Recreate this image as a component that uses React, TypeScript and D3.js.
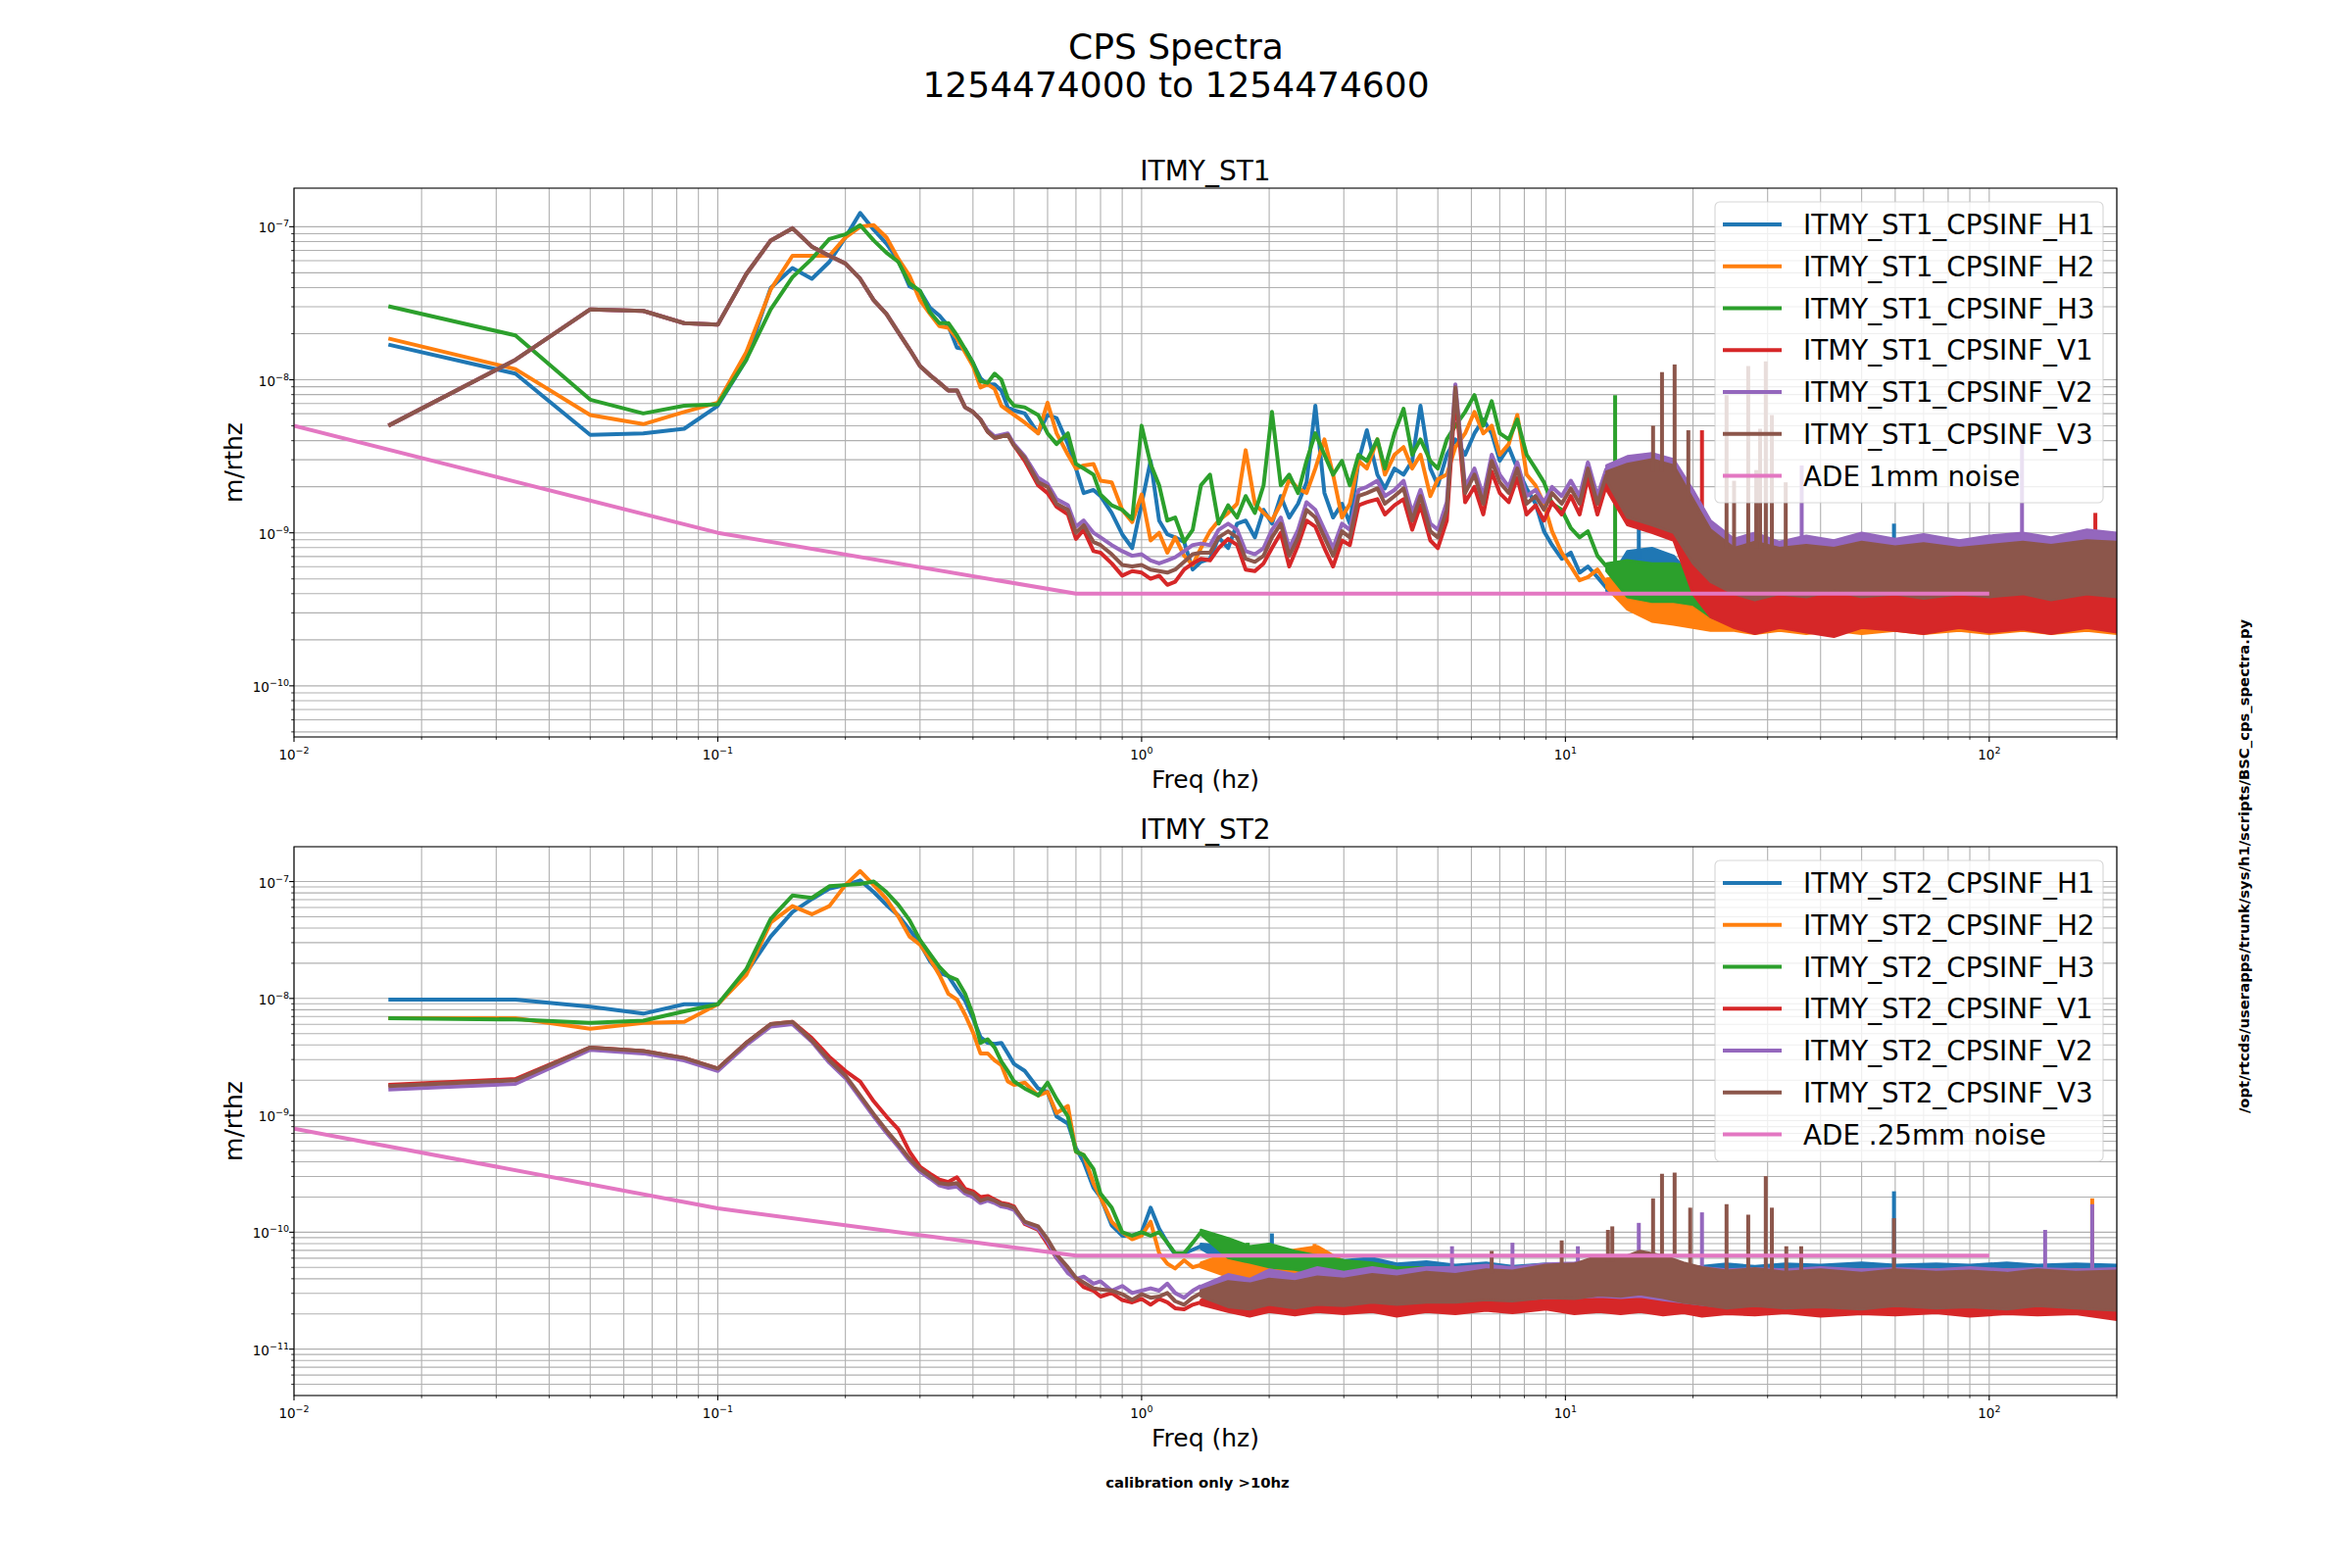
import React from 'react';
import * as d3 from 'd3';

const FONT = '"DejaVu Sans", "Liberation Sans", sans-serif';
const COLORS = ['#1f77b4', '#ff7f0e', '#2ca02c', '#d62728', '#9467bd', '#8c564b'];
const ADE_COLOR = '#e377c2';

// figure layout (matplotlib subplots 2x1, 24x16in @100dpi)
const AX_L = 300;
const AX_R = 2160;
const AX_H = 560;
const LW = 4;

// ---- frequency bins (Hz) ----
const lowFreq = [
  0.0167, 0.0333, 0.05, 0.0667, 0.0833, 0.1, 0.1167, 0.1333, 0.15, 0.1667,
  0.1833, 0.2, 0.2167, 0.2333, 0.25, 0.2667, 0.2833, 0.3, 0.3167, 0.3333,
  0.35, 0.3667, 0.3833, 0.4, 0.4167, 0.4333, 0.45, 0.4667, 0.4833, 0.5,
  0.53, 0.57, 0.6, 0.63, 0.67, 0.7, 0.73, 0.77, 0.8, 0.85, 0.9, 0.95, 1.0,
  1.05, 1.1, 1.15, 1.2, 1.26, 1.32, 1.38,
];
const st1MidFreq = [
  1.45, 1.52, 1.6, 1.68, 1.76, 1.85, 1.94, 2.03, 2.13, 2.23,
  2.34, 2.45, 2.57, 2.7, 2.83, 2.97, 3.1, 3.25, 3.4, 3.6,
  3.75, 3.95, 4.15, 4.35, 4.55, 4.8, 5.0, 5.25, 5.5, 5.8,
  6.1, 6.4, 6.7, 7.0, 7.35, 7.7, 8.1, 8.5, 8.9, 9.3,
  9.8, 10.3, 10.8, 11.3, 11.9, 12.5,
];
const st1LineFreq = [...lowFreq, ...st1MidFreq];
const st2LineFreq = lowFreq;

// ---- ST1 spectra, log10(m/rthz) ----
const st1H1 = [
  -7.77, -7.96, -8.36, -8.35, -8.32, -8.17, -7.87, -7.40, -7.27, -7.34, -7.23, -7.07, -6.91, -7.02, -7.11,
  -7.22, -7.39, -7.42, -7.53, -7.58, -7.65, -7.79, -7.80, -7.89, -7.99, -8.03, -8.03, -8.07, -8.18, -8.20,
  -8.22, -8.35, -8.23, -8.25, -8.42, -8.58, -8.74, -8.72, -8.76, -8.87, -9.01, -9.10, -8.81,
  -8.53, -8.92, -9.01, -9.03, -9.06, -9.24, -9.19,
  -9.17, -9.03, -9.10, -8.94, -8.92, -9.03, -8.85, -8.94, -8.76, -8.90,
  -8.81, -8.67, -8.17, -8.74, -8.90, -8.81, -8.94, -8.53, -8.33, -8.62,
  -8.71, -8.58, -8.62, -8.53, -8.17, -8.58, -8.69, -8.49, -8.39, -8.49,
  -8.35, -8.26, -8.35, -8.53, -8.44, -8.58, -8.71, -8.81, -8.99, -9.08,
  -9.17, -9.13, -9.26, -9.22, -9.29, -9.36,
];
const st1H2 = [
  -7.73, -7.93, -8.23, -8.29, -8.21, -8.15, -7.82, -7.41, -7.19, -7.19, -7.19, -7.07, -7.00, -6.99, -7.07,
  -7.21, -7.32, -7.48, -7.57, -7.65, -7.66, -7.73, -7.82, -7.91, -8.05, -8.03, -8.06, -8.17, -8.20, -8.23,
  -8.28, -8.35, -8.15, -8.35, -8.49, -8.58, -8.56, -8.55, -8.66, -8.67, -8.85, -8.93, -8.75,
  -9.05, -9.00, -9.13, -9.03, -9.15, -9.21, -9.10,
  -8.99, -8.92, -8.87, -8.81, -8.46, -8.81, -8.87, -8.92, -8.81, -8.65,
  -8.71, -8.74, -8.58, -8.39, -8.62, -8.90, -8.81, -8.53, -8.58, -8.39,
  -8.62, -8.49, -8.44, -8.58, -8.49, -8.76, -8.65, -8.62, -8.44, -8.35,
  -8.21, -8.35, -8.30, -8.49, -8.42, -8.23, -8.62, -8.69, -8.81, -8.99,
  -9.13, -9.22, -9.31, -9.29, -9.24, -9.33,
];
const st1H3 = [
  -7.52, -7.71, -8.13, -8.22, -8.17, -8.16, -7.87, -7.54, -7.33, -7.21, -7.08, -7.05, -6.99, -7.09, -7.17,
  -7.23, -7.37, -7.42, -7.56, -7.63, -7.63, -7.71, -7.80, -7.89, -8.01, -8.02, -7.96, -8.00, -8.12, -8.17,
  -8.18, -8.23, -8.35, -8.42, -8.35, -8.55, -8.58, -8.62, -8.75, -8.82, -8.85, -8.91, -8.30,
  -8.55, -8.69, -8.92, -8.90, -9.06, -8.98, -8.69,
  -8.62, -8.94, -8.82, -8.90, -8.76, -8.87, -8.69, -8.21, -8.69, -8.62,
  -8.74, -8.53, -8.35, -8.49, -8.62, -8.53, -8.69, -8.49, -8.53, -8.39,
  -8.58, -8.35, -8.19, -8.49, -8.39, -8.53, -8.58, -8.39, -8.30, -8.21,
  -8.10, -8.30, -8.14, -8.35, -8.39, -8.26, -8.49, -8.58, -8.67, -8.81,
  -8.85, -8.97, -9.03, -8.99, -9.15, -9.22,
];
const st1V1 = [
  -8.30, -7.87, -7.54, -7.55, -7.63, -7.64, -7.31, -7.09, -7.01, -7.13, -7.19, -7.24, -7.34, -7.48, -7.57,
  -7.69, -7.80, -7.91, -7.97, -8.02, -8.07, -8.07, -8.18, -8.21, -8.26, -8.34, -8.38, -8.37, -8.36, -8.43,
  -8.53, -8.69, -8.74, -8.83, -8.88, -9.04, -8.98, -9.12, -9.13, -9.20, -9.28, -9.25, -9.26,
  -9.30, -9.28, -9.34, -9.32, -9.24, -9.20, -9.17,
  -9.18, -9.10, -9.04, -9.08, -9.24, -9.25, -9.20, -9.10, -9.00, -9.22,
  -9.08, -8.92, -8.96, -9.10, -9.22, -9.05, -9.08, -8.82, -8.80, -8.78,
  -8.88, -8.82, -8.78, -8.98, -8.82, -9.05, -9.10, -8.92, -8.10, -8.80,
  -8.70, -8.88, -8.60, -8.74, -8.80, -8.64, -8.88, -8.82, -8.92, -8.80,
  -8.88, -8.76, -8.88, -8.64, -8.88, -8.68,
];
const st1V2 = [
  -8.30, -7.87, -7.54, -7.55, -7.63, -7.64, -7.31, -7.09, -7.01, -7.13, -7.19, -7.24, -7.34, -7.48, -7.57,
  -7.69, -7.80, -7.91, -7.97, -8.02, -8.07, -8.07, -8.18, -8.21, -8.26, -8.33, -8.37, -8.36, -8.35, -8.42,
  -8.50, -8.64, -8.68, -8.78, -8.82, -8.96, -8.92, -9.00, -9.03, -9.08, -9.12, -9.15, -9.14,
  -9.18, -9.20, -9.18, -9.16, -9.12, -9.08, -9.07,
  -9.08, -8.98, -8.94, -8.98, -9.12, -9.14, -9.10, -8.98, -8.90, -9.10,
  -8.98, -8.80, -8.85, -8.98, -9.10, -8.94, -8.98, -8.72, -8.70, -8.66,
  -8.76, -8.72, -8.66, -8.87, -8.72, -8.94, -8.98, -8.80, -8.03, -8.70,
  -8.58, -8.76, -8.49, -8.62, -8.70, -8.54, -8.76, -8.72, -8.80, -8.70,
  -8.76, -8.66, -8.76, -8.54, -8.76, -8.58,
];
const st1V3 = [
  -8.30, -7.87, -7.54, -7.55, -7.63, -7.64, -7.31, -7.09, -7.01, -7.13, -7.19, -7.24, -7.34, -7.48, -7.57,
  -7.69, -7.80, -7.91, -7.97, -8.02, -8.07, -8.07, -8.18, -8.21, -8.26, -8.34, -8.38, -8.37, -8.36, -8.43,
  -8.51, -8.67, -8.70, -8.81, -8.85, -9.00, -8.95, -9.06, -9.08, -9.14, -9.21, -9.22, -9.21,
  -9.24, -9.25, -9.26, -9.24, -9.19, -9.14, -9.13,
  -9.13, -9.03, -8.99, -9.03, -9.17, -9.19, -9.15, -9.03, -8.94, -9.15,
  -9.03, -8.85, -8.90, -9.03, -9.15, -8.99, -9.03, -8.76, -8.74, -8.71,
  -8.81, -8.76, -8.71, -8.92, -8.76, -8.99, -9.03, -8.85, -8.05, -8.74,
  -8.62, -8.81, -8.53, -8.67, -8.74, -8.58, -8.81, -8.76, -8.85, -8.74,
  -8.81, -8.71, -8.81, -8.58, -8.81, -8.62,
];

// dense region of ST1 above 12.5 Hz: envelope of each spectrum, log10
const st1BandFreq = [12.5, 14, 16, 18, 20, 22, 25, 28, 32, 37, 43, 50, 60, 70, 85, 100, 120, 140, 170, 200];
const st1H1Lo = [-9.38, -9.45, -9.48, -9.52, -9.55, -9.58, -9.6, -9.6, -9.6, -9.6, -9.6, -9.6, -9.6, -9.6, -9.6, -9.6, -9.6, -9.6, -9.6, -9.6];
const st1H1Hi = [-9.34, -9.12, -9.1, -9.15, -9.3, -9.35, -9.38, -9.38, -9.38, -9.38, -9.38, -9.38, -9.38, -9.38, -9.38, -9.38, -9.38, -9.38, -9.38, -9.38];
const st1H2Lo = [-9.36, -9.5, -9.58, -9.6, -9.62, -9.64, -9.64, -9.66, -9.64, -9.66, -9.64, -9.66, -9.64, -9.66, -9.64, -9.66, -9.64, -9.66, -9.64, -9.66];
const st1H2Hi = [-9.3, -9.28, -9.35, -9.38, -9.38, -9.4, -9.4, -9.4, -9.4, -9.4, -9.4, -9.4, -9.4, -9.4, -9.4, -9.4, -9.4, -9.4, -9.4, -9.4];
const st1H3Lo = [-9.25, -9.42, -9.45, -9.45, -9.47, -9.55, -9.6, -9.6, -9.6, -9.6, -9.6, -9.6, -9.6, -9.6, -9.6, -9.6, -9.6, -9.6, -9.6, -9.6];
const st1H3Hi = [-9.2, -9.18, -9.2, -9.2, -9.22, -9.3, -9.36, -9.36, -9.36, -9.36, -9.36, -9.36, -9.36, -9.36, -9.36, -9.36, -9.36, -9.36, -9.36, -9.36];
const st1V1Lo = [-8.72, -8.95, -9.0, -9.05, -9.4, -9.55, -9.62, -9.66, -9.62, -9.65, -9.68, -9.62, -9.64, -9.66, -9.62, -9.65, -9.63, -9.66, -9.62, -9.65];
const st1V1Hi = [-8.66, -8.62, -8.58, -8.62, -8.9, -9.2, -9.36, -9.38, -9.38, -9.38, -9.38, -9.38, -9.38, -9.38, -9.38, -9.38, -9.38, -9.38, -9.38, -9.38];
const st1V2Lo = [-8.62, -8.88, -8.92, -8.98, -9.15, -9.28, -9.35, -9.35, -9.35, -9.35, -9.35, -9.35, -9.35, -9.35, -9.35, -9.35, -9.35, -9.35, -9.35, -9.35];
const st1V2Hi = [-8.56, -8.5, -8.48, -8.52, -8.72, -8.92, -9.04, -9.0, -9.06, -9.02, -9.05, -9.0, -9.04, -9.01, -9.05, -9.02, -9.0, -9.03, -8.98, -9.0];
const st1V3Lo = [-8.66, -8.9, -8.95, -9.0, -9.2, -9.32, -9.4, -9.44, -9.4, -9.42, -9.38, -9.42, -9.4, -9.43, -9.4, -9.42, -9.4, -9.44, -9.4, -9.42];
const st1V3Hi = [-8.6, -8.55, -8.52, -8.56, -8.78, -8.98, -9.1, -9.06, -9.1, -9.08, -9.1, -9.06, -9.09, -9.07, -9.1, -9.08, -9.06, -9.08, -9.05, -9.06];

// narrow lines: [freq, series, base log10, peak log10]
const st1Spikes = [
  [14.9, 0, -9.2, -8.74], [59.6, 0, -9.4, -8.94], [13.1, 2, -9.2, -8.10],
  [16.1, 5, -8.6, -8.30], [16.9, 5, -8.6, -7.95], [18.1, 5, -8.6, -7.90], [19.5, 5, -8.8, -8.33],
  [21.0, 3, -9.0, -8.33], [24.0, 5, -9.1, -8.10], [25.0, 5, -9.1, -8.66], [27.0, 5, -9.1, -7.91],
  [28.2, 5, -9.1, -8.59], [28.8, 5, -9.1, -8.32], [29.7, 5, -9.1, -7.88], [30.7, 5, -9.1, -8.23],
  [33.1, 5, -9.1, -8.67], [36.1, 4, -9.1, -8.56], [119.5, 4, -9.1, -8.38], [178, 3, -9.4, -8.87],
];

// ---- ST2 spectra, log10(m/rthz) ----
const st2H1 = [
  -8.01, -8.01, -8.07, -8.13, -8.05, -8.05, -7.78, -7.47, -7.26, -7.15, -7.06, -7.03, -6.99, -7.09, -7.20,
  -7.29, -7.41, -7.53, -7.68, -7.78, -7.81, -7.92, -8.02, -8.17, -8.33, -8.38, -8.39, -8.38, -8.47, -8.56,
  -8.62, -8.77, -8.80, -9.01, -9.07, -9.28, -9.40, -9.62, -9.70, -9.94, -10.03, -10.03, -10.00,
  -9.79, -9.97, -10.09, -10.19, -10.18, -10.15, -10.12,
];
const st2H2 = [
  -8.17, -8.17, -8.26, -8.21, -8.20, -8.05, -7.80, -7.35, -7.21, -7.28, -7.21, -7.03, -6.91, -7.03, -7.15,
  -7.30, -7.47, -7.54, -7.66, -7.80, -7.96, -8.01, -8.14, -8.29, -8.47, -8.47, -8.53, -8.57, -8.71, -8.74,
  -8.72, -8.83, -8.80, -8.98, -8.92, -9.31, -9.34, -9.58, -9.70, -9.91, -10.00, -10.06, -10.03,
  -9.91, -10.18, -10.27, -10.31, -10.24, -10.30, -10.28,
];
const st2H3 = [
  -8.17, -8.18, -8.21, -8.19, -8.11, -8.05, -7.75, -7.32, -7.12, -7.14, -7.04, -7.03, -7.02, -7.00, -7.09,
  -7.20, -7.33, -7.50, -7.62, -7.73, -7.81, -7.84, -7.96, -8.14, -8.38, -8.35, -8.42, -8.54, -8.62, -8.71,
  -8.77, -8.83, -8.72, -8.86, -9.01, -9.31, -9.34, -9.46, -9.67, -9.79, -10.00, -10.03, -10.00,
  -10.03, -10.00, -10.09, -10.18, -10.18, -10.09, -10.00,
];
const st2V1 = [
  -8.74, -8.69, -8.42, -8.45, -8.51, -8.60, -8.38, -8.22, -8.20, -8.34, -8.50, -8.62, -8.71, -8.88, -9.01,
  -9.12, -9.31, -9.44, -9.50, -9.55, -9.57, -9.53, -9.63, -9.65, -9.70, -9.69, -9.72, -9.75, -9.76, -9.78,
  -9.93, -9.98, -10.10, -10.22, -10.33, -10.40, -10.47, -10.50, -10.55, -10.52, -10.58, -10.60, -10.57,
  -10.62, -10.57, -10.60, -10.65, -10.66, -10.62, -10.60,
];
const st2V2 = [
  -8.78, -8.73, -8.44, -8.47, -8.53, -8.62, -8.40, -8.24, -8.22, -8.37, -8.55, -8.68, -8.85, -9.01, -9.15,
  -9.27, -9.39, -9.48, -9.54, -9.60, -9.62, -9.61, -9.67, -9.70, -9.75, -9.73, -9.75, -9.78, -9.79, -9.81,
  -9.92, -9.97, -10.08, -10.22, -10.35, -10.40, -10.38, -10.44, -10.42, -10.50, -10.46, -10.52, -10.50,
  -10.48, -10.50, -10.44, -10.52, -10.56, -10.50, -10.46,
];
const st2V3 = [
  -8.75, -8.70, -8.42, -8.45, -8.51, -8.60, -8.38, -8.22, -8.20, -8.36, -8.53, -8.66, -8.83, -8.99, -9.13,
  -9.25, -9.37, -9.46, -9.52, -9.58, -9.59, -9.58, -9.65, -9.67, -9.73, -9.71, -9.73, -9.76, -9.77, -9.79,
  -9.91, -9.95, -10.06, -10.19, -10.30, -10.39, -10.43, -10.48, -10.49, -10.50, -10.53, -10.58, -10.53,
  -10.56, -10.55, -10.52, -10.59, -10.62, -10.56, -10.52,
];

const st2BandFreq = [
  1.38, 1.6, 1.8, 2.0, 2.3, 2.6, 3.0, 3.5, 4.0, 4.7, 5.5, 6.5, 7.5, 9.0, 10.5, 12, 13.5,
  15, 17, 19, 21, 24, 28, 33, 40, 50, 60, 75, 90, 110, 130, 160, 200,
];
const st2H1Lo = [-10.14, -10.28, -10.3, -10.34, -10.32, -10.38, -10.4, -10.44, -10.45, -10.46, -10.44, -10.48, -10.46, -10.5, -10.48, -10.5, -10.52, -10.5, -10.52, -10.54, -10.55, -10.54, -10.56, -10.55, -10.56, -10.54, -10.56, -10.55, -10.56, -10.54, -10.56, -10.55, -10.56];
const st2H1Hi = [-10.10, -10.12, -10.16, -10.1, -10.2, -10.18, -10.24, -10.22, -10.27, -10.25, -10.28, -10.26, -10.29, -10.27, -10.3, -10.28, -10.3, -10.29, -10.31, -10.3, -10.29, -10.27, -10.29, -10.27, -10.28, -10.26, -10.28, -10.27, -10.28, -10.26, -10.28, -10.27, -10.28];
const st2H2Lo = [-10.3, -10.38, -10.4, -10.44, -10.42, -10.46, -10.48, -10.52, -10.54, -10.55, -10.56, -10.58, -10.6, -10.62, -10.6, -10.62, -10.64, -10.62, -10.64, -10.62, -10.6, -10.62, -10.6, -10.62, -10.6, -10.62, -10.6, -10.62, -10.6, -10.62, -10.6, -10.62, -10.6];
const st2H2Hi = [-10.26, -10.18, -10.22, -10.2, -10.15, -10.12, -10.25, -10.28, -10.3, -10.32, -10.33, -10.36, -10.4, -10.44, -10.45, -10.46, -10.45, -10.46, -10.45, -10.42, -10.38, -10.34, -10.33, -10.32, -10.33, -10.32, -10.33, -10.32, -10.33, -10.32, -10.33, -10.32, -10.32];
const st2H3Lo = [-10.02, -10.22, -10.26, -10.3, -10.32, -10.36, -10.4, -10.44, -10.46, -10.47, -10.48, -10.5, -10.52, -10.56, -10.58, -10.6, -10.6, -10.6, -10.6, -10.6, -10.6, -10.6, -10.6, -10.6, -10.6, -10.6, -10.6, -10.6, -10.6, -10.6, -10.6, -10.6, -10.6];
const st2H3Hi = [-9.98, -10.05, -10.12, -10.1, -10.16, -10.2, -10.24, -10.26, -10.3, -10.3, -10.31, -10.33, -10.36, -10.4, -10.43, -10.44, -10.45, -10.44, -10.45, -10.44, -10.42, -10.36, -10.35, -10.34, -10.35, -10.34, -10.35, -10.34, -10.35, -10.34, -10.35, -10.34, -10.34];
const st2V1Lo = [-10.62, -10.68, -10.72, -10.68, -10.71, -10.68, -10.7, -10.68, -10.72, -10.68, -10.7, -10.67, -10.69, -10.66, -10.7, -10.68, -10.7, -10.68, -10.71, -10.69, -10.72, -10.7, -10.71, -10.69, -10.72, -10.7, -10.71, -10.69, -10.72, -10.7, -10.71, -10.7, -10.75];
const st2V1Hi = [-10.58, -10.52, -10.55, -10.5, -10.52, -10.5, -10.52, -10.48, -10.5, -10.48, -10.5, -10.46, -10.48, -10.45, -10.46, -10.44, -10.45, -10.44, -10.46, -10.48, -10.5, -10.5, -10.5, -10.5, -10.5, -10.5, -10.5, -10.5, -10.5, -10.5, -10.5, -10.5, -10.5];
const st2V2Lo = [-10.5, -10.6, -10.62, -10.6, -10.62, -10.6, -10.6, -10.58, -10.6, -10.58, -10.58, -10.56, -10.58, -10.56, -10.56, -10.55, -10.56, -10.55, -10.58, -10.6, -10.62, -10.64, -10.62, -10.64, -10.63, -10.65, -10.62, -10.64, -10.63, -10.65, -10.62, -10.64, -10.63];
const st2V2Hi = [-10.46, -10.36, -10.4, -10.32, -10.36, -10.3, -10.34, -10.3, -10.33, -10.3, -10.3, -10.28, -10.3, -10.27, -10.26, -10.24, -10.24, -10.22, -10.24, -10.28, -10.3, -10.32, -10.31, -10.32, -10.3, -10.32, -10.31, -10.32, -10.3, -10.32, -10.31, -10.32, -10.31];
const st2V3Lo = [-10.55, -10.64, -10.66, -10.62, -10.65, -10.62, -10.63, -10.6, -10.62, -10.6, -10.6, -10.58, -10.59, -10.56, -10.57, -10.54, -10.55, -10.53, -10.56, -10.6, -10.62, -10.65, -10.63, -10.65, -10.64, -10.66, -10.63, -10.65, -10.64, -10.66, -10.63, -10.65, -10.67];
const st2V3Hi = [-10.5, -10.42, -10.44, -10.4, -10.42, -10.38, -10.4, -10.36, -10.38, -10.34, -10.36, -10.32, -10.33, -10.28, -10.27, -10.2, -10.22, -10.16, -10.2, -10.26, -10.3, -10.33, -10.31, -10.34, -10.32, -10.35, -10.32, -10.34, -10.33, -10.35, -10.32, -10.34, -10.33];

const st2Spikes = [
  [2.03, 0, -10.2, -10.01], [2.56, 1, -10.2, -10.10], [1.78, 2, -10.15, -10.09],
  [5.4, 4, -10.35, -10.12], [6.7, 5, -10.35, -10.16], [7.5, 4, -10.35, -10.09], [9.8, 5, -10.3, -10.07],
  [10.7, 4, -10.3, -10.12], [12.6, 5, -10.25, -9.98], [12.9, 5, -10.25, -9.95], [14.9, 4, -10.2, -9.92],
  [16.1, 5, -10.2, -9.71], [16.9, 5, -10.2, -9.50], [18.1, 5, -10.2, -9.49], [19.7, 5, -10.3, -9.79],
  [21, 4, -10.3, -9.83], [24, 5, -10.34, -9.76], [27, 5, -10.34, -9.85], [29.7, 5, -10.34, -9.52],
  [30.7, 5, -10.34, -9.79], [33.2, 5, -10.34, -10.12], [36, 5, -10.34, -10.12],
  [59.6, 0, -10.3, -9.65], [59.6, 5, -10.34, -9.88], [135.5, 4, -10.32, -9.98],
  [175, 1, -10.32, -9.71], [175, 4, -10.32, -9.76],
];

// ADE noise reference curves (m/rthz)
const adeFreq = [0.01, 0.1, 0.7, 100];
const st1Ade = [5e-9, 1e-9, 4e-10, 4e-10];
const st2Ade = [7.7e-10, 1.6e-10, 6.3e-11, 6.3e-11];

const st1Labels = ['ITMY_ST1_CPSINF_H1', 'ITMY_ST1_CPSINF_H2', 'ITMY_ST1_CPSINF_H3', 'ITMY_ST1_CPSINF_V1', 'ITMY_ST1_CPSINF_V2', 'ITMY_ST1_CPSINF_V3', 'ADE 1mm noise'];
const st2Labels = ['ITMY_ST2_CPSINF_H1', 'ITMY_ST2_CPSINF_H2', 'ITMY_ST2_CPSINF_H3', 'ITMY_ST2_CPSINF_V1', 'ITMY_ST2_CPSINF_V2', 'ITMY_ST2_CPSINF_V3', 'ADE .25mm noise'];

const panels = [
  {
    id: 'st1', title: 'ITMY_ST1', top: 192, yLog: [-10.334, -6.748],
    lineFreq: st1LineFreq, lines: [st1H1, st1H2, st1H3, st1V1, st1V2, st1V3],
    bandFreq: st1BandFreq,
    bandLo: [st1H1Lo, st1H2Lo, st1H3Lo, st1V1Lo, st1V2Lo, st1V3Lo],
    bandHi: [st1H1Hi, st1H2Hi, st1H3Hi, st1V1Hi, st1V2Hi, st1V3Hi],
    spikes: st1Spikes, ade: st1Ade, labels: st1Labels,
  },
  {
    id: 'st2', title: 'ITMY_ST2', top: 864, yLog: [-11.397, -6.702],
    lineFreq: st2LineFreq, lines: [st2H1, st2H2, st2H3, st2V1, st2V2, st2V3],
    bandFreq: st2BandFreq,
    bandLo: [st2H1Lo, st2H2Lo, st2H3Lo, st2V1Lo, st2V2Lo, st2V3Lo],
    bandHi: [st2H1Hi, st2H2Hi, st2H3Hi, st2V1Hi, st2V2Hi, st2V3Hi],
    spikes: st2Spikes, ade: st2Ade, labels: st2Labels,
  },
];

const isMajor = (t: number) => Math.abs(Math.log10(t) - Math.round(Math.log10(t))) < 1e-6;
const expText = (t: number) => {
  const e = Math.round(Math.log10(t));
  return e < 0 ? '\u2212' + -e : String(e);
};

function Panel({ p }: { p: (typeof panels)[number] }) {
  const top = p.top;
  const bottom = top + AX_H;
  const x = d3.scaleLog().domain([0.01, 200]).range([AX_L, AX_R]);
  const y = d3.scaleLog().domain([10 ** p.yLog[0], 10 ** p.yLog[1]]).range([bottom, top]);
  const xt = x.ticks();
  const yt = y.ticks().filter((t) => y(t) >= top - 0.5 && y(t) <= bottom + 0.5);

  const line = d3.line<[number, number]>().x((d) => x(d[0])).y((d) => y(d[1]));
  const area = d3.area<[number, number, number]>()
    .x((d) => x(d[0])).y0((d) => y(10 ** d[1])).y1((d) => y(10 ** d[2]));

  const clip = `clip-${p.id}`;
  const legTop = top + 14;

  return (
    <g>
      <defs>
        <clipPath id={clip}>
          <rect x={AX_L} y={top} width={AX_R - AX_L} height={AX_H} />
        </clipPath>
      </defs>
      <rect x={AX_L} y={top} width={AX_R - AX_L} height={AX_H} fill="white" />
      {/* grid, major + minor */}
      <g stroke="#b0b0b0" strokeWidth={1.1}>
        {xt.map((t, i) => (
          <line key={'gx' + i} x1={x(t)} x2={x(t)} y1={top} y2={bottom} />
        ))}
        {yt.map((t, i) => (
          <line key={'gy' + i} x1={AX_L} x2={AX_R} y1={y(t)} y2={y(t)} />
        ))}
      </g>
      <g clipPath={`url(#${clip})`}>
        {p.lines.map((vals, s) => {
          const pts = p.lineFreq.map((f, i) => [f, 10 ** vals[i]] as [number, number]);
          const band = p.bandFreq.map((f, i) => [f, p.bandLo[s][i], p.bandHi[s][i]] as [number, number, number]);
          const sp = p.spikes.filter((d) => d[1] === s);
          return (
            <g key={'s' + s}>
              <path d={area(band) || ''} fill={COLORS[s]} stroke={COLORS[s]} strokeWidth={2.5} strokeLinejoin="round" />
              <path d={line(pts) || ''} fill="none" stroke={COLORS[s]} strokeWidth={LW} strokeLinejoin="round" />
              {sp.map((d, i) => (
                <line key={'sp' + i} x1={x(d[0])} x2={x(d[0])} y1={y(10 ** d[2])} y2={y(10 ** d[3])}
                  stroke={COLORS[s]} strokeWidth={LW} />
              ))}
            </g>
          );
        })}
        <path
          d={line(adeFreq.map((f, i) => [f, p.ade[i]] as [number, number])) || ''}
          fill="none" stroke={ADE_COLOR} strokeWidth={LW} strokeLinejoin="round"
        />
      </g>
      {/* spines */}
      <rect x={AX_L} y={top} width={AX_R - AX_L} height={AX_H} fill="none" stroke="black" strokeWidth={1.1} />
      {/* ticks */}
      <g stroke="black">
        {xt.map((t, i) => (
          <line key={'tx' + i} x1={x(t)} x2={x(t)} y1={bottom} y2={bottom + (isMajor(t) ? 4.9 : 2.8)}
            strokeWidth={isMajor(t) ? 1.1 : 0.8} />
        ))}
        {yt.map((t, i) => (
          <line key={'ty' + i} x1={AX_L} x2={AX_L - (isMajor(t) ? 4.9 : 2.8)} y1={y(t)} y2={y(t)}
            strokeWidth={isMajor(t) ? 1.1 : 0.8} />
        ))}
      </g>
      <g fontFamily={FONT} fill="black">
        {xt.filter(isMajor).map((t, i) => (
          <text key={'lx' + i} x={x(t)} y={bottom + 23} fontSize={13.5} textAnchor="middle">
            10<tspan dy={-6} fontSize={9.5}>{expText(t)}</tspan>
          </text>
        ))}
        {yt.filter(isMajor).map((t, i) => (
          <text key={'ly' + i} x={AX_L - 5} y={y(t) + 6} fontSize={13.5} textAnchor="end">
            10<tspan dy={-6} fontSize={9.5}>{expText(t)}</tspan>
          </text>
        ))}
        <text x={(AX_L + AX_R) / 2} y={top - 8} fontSize={28} textAnchor="middle">{p.title}</text>
        <text x={(AX_L + AX_R) / 2} y={bottom + 52} fontSize={25} textAnchor="middle">Freq (hz)</text>
        <text transform={`translate(247, ${(top + bottom) / 2}) rotate(-90)`} fontSize={25} textAnchor="middle">m/rthz</text>
      </g>
      {/* legend */}
      <g fontFamily={FONT}>
        <rect x={1750} y={legTop} width={396} height={307} rx={5} fill="white" fillOpacity={0.8}
          stroke="#cccccc" strokeOpacity={0.8} strokeWidth={1.1} />
        {p.labels.map((lab, i) => {
          const cy = legTop + 23 + i * 42.75;
          const c = i < 6 ? COLORS[i] : ADE_COLOR;
          return (
            <g key={'lg' + i}>
              <line x1={1758} x2={1818} y1={cy} y2={cy} stroke={c} strokeWidth={LW} />
              <text x={1840} y={cy + 10} fontSize={27.8} fill="black">{lab}</text>
            </g>
          );
        })}
      </g>
    </g>
  );
}

export default function App() {
  return (
    <svg width={2400} height={1600} viewBox="0 0 2400 1600"
      style={{ position: 'absolute', left: 0, top: 0, background: 'white' }}>
      <rect width={2400} height={1600} fill="white" />
      <g fontFamily={FONT} fill="black" textAnchor="middle">
        <text x={1200} y={60} fontSize={36}>CPS Spectra</text>
        <text x={1200} y={99} fontSize={36}>1254474000 to 1254474600</text>
      </g>
      {panels.map((p) => (
        <Panel key={p.id} p={p} />
      ))}
      <text x={1222} y={1518} fontFamily={FONT} fontSize={14.8} fontWeight="bold" textAnchor="middle">
        calibration only &gt;10hz
      </text>
      <text transform="translate(2295, 884) rotate(-90)" fontFamily={FONT} fontSize={14.8}
        fontWeight="bold" textAnchor="middle">
        /opt/rtcds/userapps/trunk/sys/h1/scripts/BSC_cps_spectra.py
      </text>
    </svg>
  );
}
